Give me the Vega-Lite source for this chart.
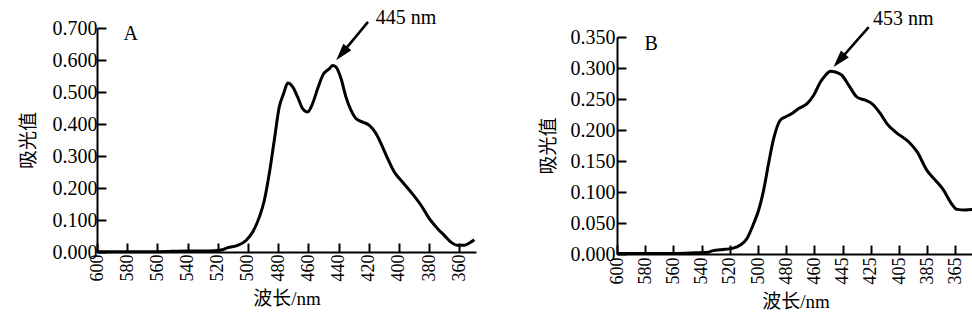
{
  "$schema": "https://vega.github.io/schema/vega-lite/v6.json",
  "background": "white",
  "padding": {"left": 19, "top": 8, "right": 0, "bottom": 0},
  "spacing": 58,
  "bounds": "full",
  "config": {
    "view": {"stroke": null},
    "axis": {
      "grid": false,
      "ticks": true,
      "domainColor": "black",
      "domainWidth": 2,
      "tickColor": "black",
      "tickOpacity": 1,
      "tickWidth": 2,
      "tickSize": -9,
      "tickCount": 30,
      "labelOverlap": false,
      "labelColor": "black",
      "labelFont": "Liberation Serif",
      "titleFont": "Liberation Serif, Noto Sans CJK SC",
      "titleFontWeight": "normal",
      "titleColor": "black",
      "titleFontSize": 19
    },
    "text": {"font": "Liberation Serif", "color": "black"}
  },
  "datasets": {
    "curveA": [
      {"wl": 600, "abs": 0.001}, {"wl": 580, "abs": 0.001}, {"wl": 560, "abs": 0.001},
      {"wl": 540, "abs": 0.003}, {"wl": 530, "abs": 0.003}, {"wl": 522, "abs": 0.004},
      {"wl": 517, "abs": 0.007}, {"wl": 513.4, "abs": 0.0135}, {"wl": 506.8, "abs": 0.021},
      {"wl": 501.3, "abs": 0.036}, {"wl": 496.9, "abs": 0.0625}, {"wl": 492.5, "abs": 0.109},
      {"wl": 489.2, "abs": 0.161}, {"wl": 485.9, "abs": 0.245}, {"wl": 482.6, "abs": 0.349},
      {"wl": 479.3, "abs": 0.453}, {"wl": 476.4, "abs": 0.495}, {"wl": 473.7, "abs": 0.528},
      {"wl": 470.4, "abs": 0.516}, {"wl": 467.1, "abs": 0.484}, {"wl": 463.8, "abs": 0.448},
      {"wl": 460.5, "abs": 0.4375}, {"wl": 457.2, "abs": 0.464}, {"wl": 453.9, "abs": 0.51},
      {"wl": 450.5, "abs": 0.552}, {"wl": 446.1, "abs": 0.573}, {"wl": 443.9, "abs": 0.583},
      {"wl": 441.7, "abs": 0.578}, {"wl": 438.4, "abs": 0.542}, {"wl": 435.1, "abs": 0.484},
      {"wl": 431.8, "abs": 0.443}, {"wl": 428.5, "abs": 0.417}, {"wl": 424.0, "abs": 0.406},
      {"wl": 419.6, "abs": 0.396}, {"wl": 415.2, "abs": 0.37}, {"wl": 411.9, "abs": 0.339},
      {"wl": 407.5, "abs": 0.292}, {"wl": 403.1, "abs": 0.25}, {"wl": 398.7, "abs": 0.224},
      {"wl": 392.1, "abs": 0.1875}, {"wl": 385.4, "abs": 0.146}, {"wl": 379.9, "abs": 0.104},
      {"wl": 374.4, "abs": 0.073}, {"wl": 370.0, "abs": 0.052}, {"wl": 365.6, "abs": 0.031},
      {"wl": 361.2, "abs": 0.021}, {"wl": 356.7, "abs": 0.021}, {"wl": 353.4, "abs": 0.028},
      {"wl": 350.1, "abs": 0.0385}
    ],
    "curveB": [
      {"wl": 600, "abs": 0.001}, {"wl": 580, "abs": 0.001}, {"wl": 560, "abs": 0.001},
      {"wl": 545, "abs": 0.002}, {"wl": 535, "abs": 0.003}, {"wl": 532.6, "abs": 0.005},
      {"wl": 523.2, "abs": 0.0075}, {"wl": 518.4, "abs": 0.009}, {"wl": 512.5, "abs": 0.0145},
      {"wl": 507.8, "abs": 0.025}, {"wl": 503.1, "abs": 0.049}, {"wl": 499.5, "abs": 0.071},
      {"wl": 496.0, "abs": 0.103}, {"wl": 492.5, "abs": 0.146}, {"wl": 488.9, "abs": 0.186},
      {"wl": 484.2, "abs": 0.216}, {"wl": 480.6, "abs": 0.221}, {"wl": 475.9, "abs": 0.2265},
      {"wl": 471.2, "abs": 0.2345}, {"wl": 465.2, "abs": 0.2425}, {"wl": 460.5, "abs": 0.256},
      {"wl": 456.8, "abs": 0.2775}, {"wl": 454.2, "abs": 0.288}, {"wl": 451.5, "abs": 0.2947},
      {"wl": 448.9, "abs": 0.2936}, {"wl": 445.3, "abs": 0.288}, {"wl": 440.6, "abs": 0.272},
      {"wl": 434.8, "abs": 0.253}, {"wl": 428.8, "abs": 0.248}, {"wl": 424.2, "abs": 0.2426},
      {"wl": 418.2, "abs": 0.2265}, {"wl": 413.6, "abs": 0.2104}, {"wl": 407.6, "abs": 0.197},
      {"wl": 398.2, "abs": 0.181}, {"wl": 392.2, "abs": 0.165}, {"wl": 385.2, "abs": 0.135},
      {"wl": 379.2, "abs": 0.119}, {"wl": 373.4, "abs": 0.103}, {"wl": 368.6, "abs": 0.084},
      {"wl": 363.8, "abs": 0.072}, {"wl": 357.9, "abs": 0.071}, {"wl": 351.8, "abs": 0.072}
    ],
    "textA": [
      {"wl": 577.7, "abs": 0.6825, "label": "A"},
      {"wl": 395.3, "abs": 0.73, "label": "445 nm"}
    ],
    "arrowA": [{"wl": 420.5, "abs": 0.719, "wl2": 437.9, "abs2": 0.62}],
    "textB": [
      {"wl": 575.7, "abs": 0.339, "label": "B"},
      {"wl": 402.0, "abs": 0.3796, "label": "453 nm"}
    ],
    "arrowB": [{"wl": 426.5, "abs": 0.366, "wl2": 446.8, "abs2": 0.312}]
  },
  "hconcat": [
    {
      "width": 379,
      "height": 224,
      "layer": [
        {
          "data": {"name": "curveA"},
          "mark": {"type": "line", "color": "black", "strokeWidth": 3, "interpolate": "monotone"},
          "encoding": {
            "x": {
              "field": "wl", "type": "quantitative",
              "scale": {"domain": [349, 600], "reverse": true, "nice": false, "zero": false},
              "axis": {
                "title": "波长/nm",
                "values": [600, 580, 560, 540, 520, 500, 480, 460, 440, 420, 400, 380, 360],
                "ticks": true, "tickSize": -9, "tickWidth": 2, "tickColor": "black",
                "labelFont": "Liberation Serif",
                "labelAngle": -90, "labelFontSize": 18, "labelPadding": 11, "titlePadding": 8
              }
            },
            "y": {
              "field": "abs", "type": "quantitative",
              "scale": {"domain": [0, 0.7], "nice": false},
              "axis": {
                "title": "吸光值",
                "values": [0, 0.1, 0.2, 0.3, 0.4, 0.5, 0.6, 0.7],
                "ticks": true, "tickSize": -9, "tickWidth": 2, "tickColor": "black",
                "labelFont": "Liberation Serif",
                "format": ".3f", "labelFontSize": 20, "labelPadding": 9, "titlePadding": 14
              }
            }
          }
        },
        {
          "data": {"name": "arrowA"},
          "mark": {"type": "rule", "color": "black", "strokeWidth": 2.5},
          "encoding": {
            "x": {"field": "wl", "type": "quantitative"},
            "y": {"field": "abs", "type": "quantitative"},
            "x2": {"field": "wl2"},
            "y2": {"field": "abs2"}
          }
        },
        {
          "data": {"name": "arrowA"},
          "mark": {"type": "point", "shape": "M0,-1L0.6,1L-0.6,1Z", "filled": true, "color": "black", "opacity": 1, "size": 300, "angle": 220},
          "encoding": {
            "x": {"field": "wl2", "type": "quantitative"},
            "y": {"field": "abs2", "type": "quantitative"}
          }
        },
        {
          "data": {"name": "textA"},
          "mark": {"type": "text", "fontSize": 20, "align": "center", "baseline": "middle"},
          "encoding": {
            "x": {"field": "wl", "type": "quantitative"},
            "y": {"field": "abs", "type": "quantitative"},
            "text": {"field": "label"}
          }
        }
      ]
    },
    {
      "width": 357,
      "height": 226,
      "layer": [
        {
          "data": {"name": "curveB"},
          "mark": {"type": "line", "color": "black", "strokeWidth": 3, "interpolate": "monotone"},
          "encoding": {
            "x": {
              "field": "wl", "type": "quantitative",
              "scale": {"domain": [600, 460, 445, 365, 351.8], "range": [0, 197.4, 225.6, 338.4, 357], "nice": false, "zero": false},
              "axis": {
                "title": "波长/nm",
                "values": [600, 580, 560, 540, 520, 500, 480, 460, 445, 425, 405, 385, 365],
                "ticks": true, "tickSize": -9, "tickWidth": 2, "tickColor": "black",
                "labelFont": "Liberation Serif",
                "labelAngle": -90, "labelFontSize": 18, "labelPadding": 12, "titlePadding": 8
              }
            },
            "y": {
              "field": "abs", "type": "quantitative",
              "scale": {"domain": [0, 0.35], "range": [226, 9], "nice": false},
              "axis": {
                "title": "吸光值",
                "values": [0, 0.05, 0.1, 0.15, 0.2, 0.25, 0.3, 0.35],
                "ticks": true, "tickSize": -9, "tickWidth": 2, "tickColor": "black",
                "labelFont": "Liberation Serif",
                "format": ".3f", "labelFontSize": 20, "labelPadding": 11, "titlePadding": 12
              }
            }
          }
        },
        {
          "data": {"name": "arrowB"},
          "mark": {"type": "rule", "color": "black", "strokeWidth": 2.5},
          "encoding": {
            "x": {"field": "wl", "type": "quantitative"},
            "y": {"field": "abs", "type": "quantitative"},
            "x2": {"field": "wl2"},
            "y2": {"field": "abs2"}
          }
        },
        {
          "data": {"name": "arrowB"},
          "mark": {"type": "point", "shape": "M0,-1L0.6,1L-0.6,1Z", "filled": true, "color": "black", "opacity": 1, "size": 300, "angle": 221},
          "encoding": {
            "x": {"field": "wl2", "type": "quantitative"},
            "y": {"field": "abs2", "type": "quantitative"}
          }
        },
        {
          "data": {"name": "textB"},
          "mark": {"type": "text", "fontSize": 20, "align": "center", "baseline": "middle"},
          "encoding": {
            "x": {"field": "wl", "type": "quantitative"},
            "y": {"field": "abs", "type": "quantitative"},
            "text": {"field": "label"}
          }
        }
      ]
    }
  ]
}
